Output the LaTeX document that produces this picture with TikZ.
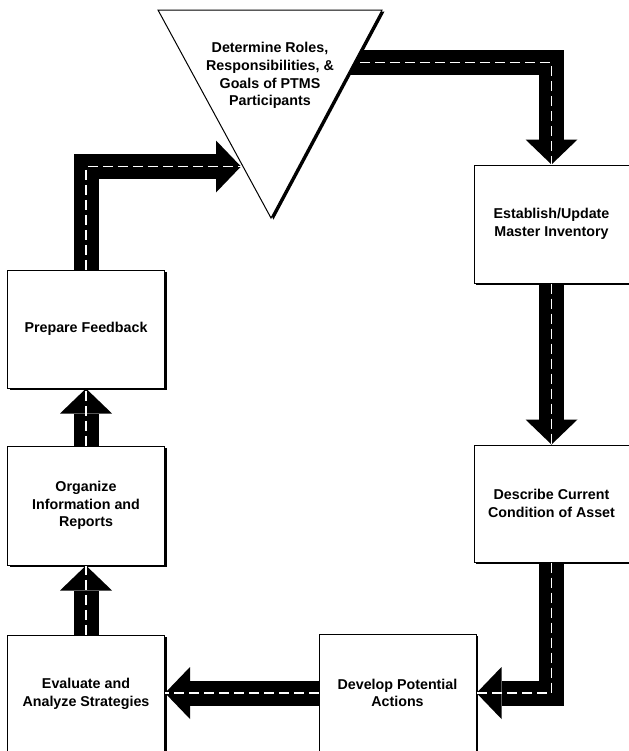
\documentclass[tikz,border=0pt]{standalone}
\usepackage{fontspec}
\setmainfont{Liberation Sans}
\usetikzlibrary{shadows,calc}
\newcommand\boxfont{\fontsize{10.7pt}{13.3pt}\selectfont\bfseries}
\newcommand\hdown[1]{\fill[black] (#1) -- ++(-26,-25) -- ++(52,0) -- cycle;}
\newcommand\hup[1]{\fill[black] (#1) -- ++(-26,25) -- ++(52,0) -- cycle;}
\newcommand\hleft[1]{\fill[black] (#1) -- ++(25,-26) -- ++(0,52) -- cycle;}
\newcommand\hright[1]{\fill[black] (#1) -- ++(-25,-26) -- ++(0,52) -- cycle;}
\begin{document}
\begin{tikzpicture}[x=0.75pt,y=-0.75pt,
  box/.style={draw=black, line width=0.75pt, fill=white, inner sep=0pt, align=center,
    minimum width=117.75pt, minimum height=88.5pt, font=\boxfont,
    drop shadow={shadow xshift=1.5pt, shadow yshift=-1.5pt, opacity=1, fill=black}},
  shaft/.style={line width=18.75pt, black, line join=miter, line cap=butt},
  mid/.style={white, line width=1.1pt, dash pattern=on 7.5pt off 3.75pt}]
\path[use as bounding box] (0,0) rectangle (629,751);
\clip (0,0) rectangle (629,751);
\fill[white] (0,0) rectangle (629,751);

% triangle geometry
\coordinate (triTL) at (158,10);
\coordinate (triTR) at (382,10);
\coordinate (triB) at (271,218);
\coordinate (triIn) at (241,166.5);
\coordinate (triOut) at (330,62.5);

% boxes
\node[box] (prep) at (86,329) {Prepare Feedback};
\node[box, minimum height=89.25pt] (organ) at (86,505.5) {Organize\\Information and\\Reports};
\node[box, minimum height=87.75pt] (evalu) at (86,693.5) {Evaluate and\\Analyze Strategies};
\node[box] (devel) at (397.5,693) {Develop Potential\\Actions};
\node[box, minimum width=116.25pt] (estab) at (551.5,224) {Establish/Update\\Master Inventory};
\node[box, minimum width=116.25pt, minimum height=87.75pt] (desc) at (551.5,503.5) {Describe Current\\Condition of Asset};

% arrow: triangle -> establish
\draw[shaft] (triOut) -- (triOut -| estab.north) -- ($(estab.north)+(0,-25)$);
\hdown{estab.north}
\draw[mid] (triOut) -- (triOut -| estab.north) -- (estab.north);

% arrow: establish -> describe
\draw[shaft] (estab.south) -- ($(desc.north)+(0,-25)$);
\hdown{desc.north}
\draw[mid] (estab.south) -- (desc.north);

% arrow: describe -> develop
\draw[shaft] (desc.south) -- (desc.south |- devel.east) -- ($(devel.east)+(25,0)$);
\hleft{devel.east}
\draw[mid] (desc.south) -- (desc.south |- devel.east) -- (devel.east);

% arrow: develop -> evaluate
\coordinate (evIn) at (evalu.east |- devel.west);
\draw[shaft] (devel.west) -- ($(evIn)+(25,0)$);
\hleft{evIn}
\draw[mid] (devel.west) -- (evIn);

% arrow: evaluate -> organize
\draw[shaft] (evalu.north) -- ($(organ.south)+(0,25)$);
\hup{organ.south}
\draw[mid] (evalu.north) -- (organ.south);

% arrow: organize -> prepare
\draw[shaft] (organ.north) -- ($(prep.south)+(0,25)$);
\hup{prep.south}
\draw[mid] (organ.north) -- (prep.south);

% arrow: prepare -> triangle
\draw[shaft] (prep.north) -- (prep.north |- triIn) -- ($(triIn)+(-25,0)$);
\hright{triIn}
\draw[mid] (prep.north) -- (prep.north |- triIn) -- (triIn);

% triangle with shadow
\fill[black] ($(triTL)+(2.5,1.5)$) -- ($(triTR)+(2.5,1.5)$) -- ($(triB)+(2.5,1.5)$) -- cycle;
\filldraw[fill=white, draw=black, line width=0.75pt] (triTL) -- (triTR) -- (triB) -- cycle;
\node[font=\boxfont, align=center, inner sep=0pt] (tri) at (270,75.5)
  {Determine Roles,\\Responsibilities, \&\\Goals of PTMS\\Participants};
\end{tikzpicture}
\end{document}
